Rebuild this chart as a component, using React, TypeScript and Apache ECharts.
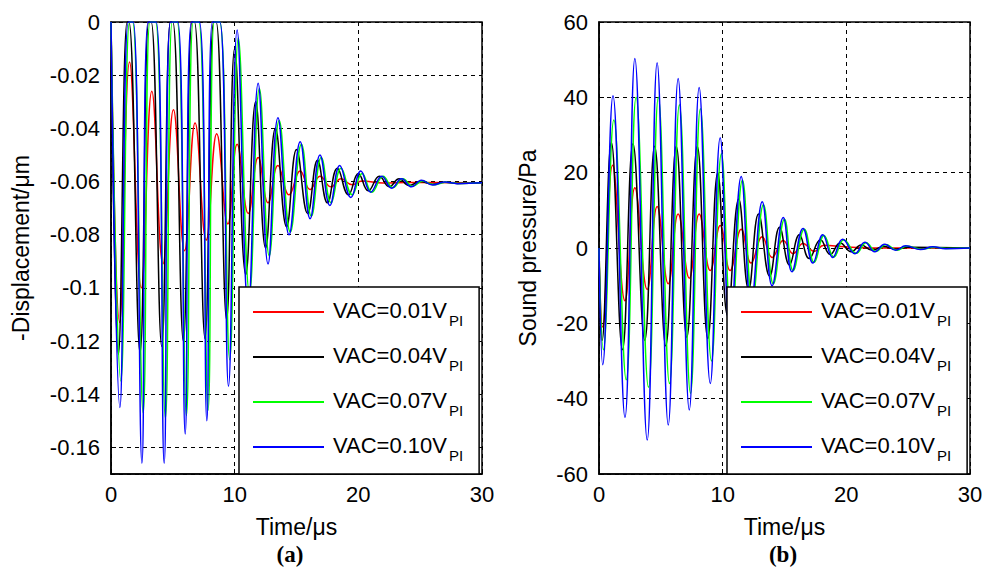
import React, { useEffect, useRef } from 'react';
import * as echarts from 'echarts';

// ---------- labels ----------
const legendNames = ['VAC=0.01V', 'VAC=0.04V', 'VAC=0.07V', 'VAC=0.10V'];
const legendSub = 'PI';
const seriesColors = ['#ff0000', '#000000', '#00ff00', '#0000ff'];
const panelLabels = ['(a)', '(b)'];
const xName = 'Time/\u03bcs';
const yNameLeft = '-Displacement/\u03bcm';
const yNameRight = 'Sound pressure/Pa';

// ---------- (a) displacement, extrema ----------
const dispTimeRed = [0, 0.7, 1.5, 2.45, 3.3, 4.2, 5.05, 5.95, 6.8, 7.7, 8.55, 9.45, 10.2, 11.1, 11.9, 12.7, 13.5, 14.4, 15.3, 16.1, 16.9, 17.8, 18.6, 19.5, 20.3, 22.0, 24.0, 30.0];
const dispRed = [0, -0.113, -0.015, -0.1, -0.026, -0.091, -0.033, -0.086, -0.038, -0.082, -0.042, -0.076, -0.046, -0.072, -0.051, -0.068, -0.054, -0.065, -0.056, -0.063, -0.058, -0.062, -0.059, -0.0612, -0.0598, -0.0606, -0.0604, -0.0605];

const dispTimeBlack = [0, 0.6, 1.3, 1.45, 2.35, 3.05, 3.25, 4.1, 4.8, 5.0, 5.85, 6.55, 6.75, 7.6, 8.3, 8.5, 9.35, 10.0, 10.9, 11.7, 12.5, 13.3, 14.2, 15.0, 15.9, 16.7, 17.5, 18.3, 19.2, 20.0, 20.8, 21.7, 22.5, 23.3, 24.1, 25.0, 26.0, 27.0, 28.0, 30.0];
const dispBlack = [0, -0.125, 0, 0, -0.1245, 0, 0, -0.122, 0, 0, -0.12, 0, 0, -0.119, 0, 0, -0.112, -0.01, -0.095, -0.03, -0.085, -0.04, -0.077, -0.048, -0.072, -0.052, -0.068, -0.055, -0.065, -0.057, -0.0635, -0.058, -0.062, -0.059, -0.0615, -0.06, -0.061, -0.0603, -0.0607, -0.0605];

const dispTimeGreen = [0, 0.8, 1.5, 1.75, 2.6, 3.15, 3.6, 4.4, 4.95, 5.35, 6.1, 6.65, 7.1, 7.85, 8.35, 8.8, 9.6, 10.3, 11.2, 12.0, 12.8, 13.6, 14.5, 15.4, 16.2, 17.0, 17.8, 18.6, 19.5, 20.3, 21.1, 22.0, 22.8, 23.6, 24.4, 25.2, 26.1, 27.1, 28.1, 30.0];
const dispGreen = [0, -0.135, 0, 0, -0.147, 0, 0, -0.149, 0, 0, -0.148, 0, 0, -0.146, 0, 0, -0.127, -0.006, -0.102, -0.025, -0.088, -0.037, -0.079, -0.046, -0.073, -0.051, -0.068, -0.055, -0.065, -0.057, -0.064, -0.058, -0.0623, -0.059, -0.0618, -0.0598, -0.0612, -0.0603, -0.0607, -0.0605];

const dispTimeBlue = [0, 0.72, 1.4, 1.8, 2.5, 3.0, 3.65, 4.3, 4.8, 5.4, 6.0, 6.5, 7.15, 7.75, 8.2, 8.8, 9.5, 10.2, 11.1, 11.9, 12.7, 13.5, 14.4, 15.3, 16.1, 16.9, 17.7, 18.5, 19.4, 20.2, 21.0, 21.9, 22.7, 23.5, 24.3, 25.1, 26.0, 27.0, 28.0, 30.0];
const dispBlue = [0, -0.145, 0, 0, -0.166, 0, 0, -0.166, 0, 0, -0.155, 0, 0, -0.15, 0, 0, -0.137, -0.003, -0.108, -0.023, -0.091, -0.036, -0.08, -0.045, -0.074, -0.05, -0.069, -0.054, -0.066, -0.056, -0.064, -0.058, -0.0625, -0.059, -0.062, -0.0595, -0.0613, -0.0602, -0.0608, -0.0605];

// ---------- (b) sound pressure, extrema ----------
const presTimeRed = [0, 0.3, 1.1, 2.1, 2.9, 3.9, 4.7, 5.6, 6.4, 7.3, 8.1, 9.0, 9.8, 10.6, 11.5, 12.3, 13.2, 14.0, 14.9, 15.7, 16.5, 17.4, 18.2, 19.8, 22.0, 30.0];
const presRed = [0, -21, 22, -14, 16, -11, 11, -9.5, 9, -8, 9, -6, 6, -6, 5, -4, 3, -2.5, 2, -1.5, 1.2, -0.9, 0.7, 0.3, 0, 0];

const presTimeBlack = [0, 0.25, 1.0, 1.9, 2.75, 3.7, 4.5, 5.4, 6.25, 7.1, 7.95, 8.8, 9.6, 10.4, 11.3, 12.1, 12.9, 13.8, 14.6, 15.4, 16.2, 17.0, 17.9, 18.7, 19.5, 20.4, 21.2, 22.1, 23.0, 24.0, 25.0, 30.0];
const presBlack = [0, -24.5, 28, -27, 27.7, -24.5, 27, -26, 27, -23.7, 27, -24, 20, -18, 13, -11, 9, -7.5, 5.5, -4.5, 3.5, -2.8, 2.2, -1.7, 1.3, -1.0, 0.8, -0.6, 0.4, -0.3, 0.2, 0];

const presTimeGreen = [0, 0.35, 1.2, 2.2, 3.0, 4.0, 4.8, 5.7, 6.5, 7.4, 8.2, 9.1, 9.9, 10.7, 11.6, 12.4, 13.3, 14.1, 15.0, 15.7, 16.6, 17.4, 18.2, 19.0, 19.8, 20.8, 21.6, 22.4, 23.2, 24.1, 24.9, 26.1, 27.1, 28.1, 30.0];
const presGreen = [0, -27, 34, -35, 40, -37, 40, -36, 38, -38.6, 37, -30, 25, -20, 18, -14, 11.5, -9.5, 7.6, -6, 5, -3.8, 3.3, -2.4, 2.2, -1.4, 1.4, -0.9, 0.9, -0.6, 0.5, -0.3, 0.2, -0.1, 0];

const presTimeBlue = [0, 0.3, 1.13, 2.1, 2.9, 3.9, 4.7, 5.6, 6.4, 7.3, 8.1, 9.0, 9.8, 10.6, 11.5, 12.3, 13.2, 14.0, 14.9, 15.6, 16.5, 17.3, 18.1, 18.9, 19.7, 20.7, 21.5, 22.3, 23.1, 24.0, 24.8, 26.0, 27.0, 28.0, 30.0];
const presBlue = [0, -31, 40.4, -45, 50.3, -51, 49.2, -47, 45, -43, 42.6, -36, 29.3, -23, 19, -15, 12.3, -10, 8.1, -6.3, 5.2, -4, 3.5, -2.5, 2.3, -1.5, 1.5, -1.0, 1.0, -0.6, 0.6, -0.4, 0.3, -0.2, 0];

const SANS = '"Liberation Sans", Arial, sans-serif';
const SERIF = '"Liberation Serif", "Times New Roman", serif';

const zip = (t: number[], v: number[]) => t.map((x, i) => [x, v[i]]);

const dispSets = [
  zip(dispTimeRed, dispRed),
  zip(dispTimeBlack, dispBlack),
  zip(dispTimeGreen, dispGreen),
  zip(dispTimeBlue, dispBlue),
];
const presSets = [
  zip(presTimeRed, presRed),
  zip(presTimeBlack, presBlack),
  zip(presTimeGreen, presGreen),
  zip(presTimeBlue, presBlue),
];

function makeSeries(sets: number[][][], axisIndex: number) {
  return sets.map((data, i) => ({
    type: 'line',
    name: legendNames[i],
    xAxisIndex: axisIndex,
    yAxisIndex: axisIndex,
    data,
    symbol: 'none',
    smooth: 0.45,
    clip: true,
    lineStyle: { color: seriesColors[i], width: 1.5 },
    itemStyle: { color: seriesColors[i] },
    emphasis: { disabled: true },
  }));
}

const axisCommon = {
  type: 'value',
  axisLine: { show: true, onZero: false, lineStyle: { color: '#000', width: 1.5 } },
  axisTick: { show: true, inside: true, length: 5, lineStyle: { color: '#000', width: 1 } },
  splitLine: { show: true, lineStyle: { color: '#000', type: [4, 4], width: 1 } },
  axisLabel: { color: '#000', fontSize: 22, fontFamily: SANS },
  nameLocation: 'middle',
  nameTextStyle: { color: '#000', fontSize: 23, fontFamily: SANS },
};

function makeLegend(left: number) {
  return {
    orient: 'vertical',
    left,
    top: 287,
    padding: [9, 16, 11, 14],
    itemGap: 13,
    itemWidth: 71,
    itemHeight: 2,
    icon: 'rect',
    backgroundColor: '#fff',
    borderColor: '#000',
    borderWidth: 1.5,
    borderRadius: 0,
    selectedMode: false,
    data: legendNames,
    formatter: (name: string) => `{a|${name}}{b|${legendSub}}`,
    textStyle: {
      color: '#000',
      rich: {
        a: { fontSize: 22, fontFamily: SANS, lineHeight: 22, padding: [3, 0, 7, 4], color: '#000' },
        b: { fontSize: 15, fontFamily: SANS, lineHeight: 15, padding: [17, 0, 0, 2], color: '#000' },
      },
    },
  };
}

const option = {
  animation: false,
  backgroundColor: '#fff',
  grid: [
    { left: 111, top: 22, width: 371, height: 452, show: true, borderColor: '#000', borderWidth: 1.5, backgroundColor: 'transparent' },
    { left: 599, top: 22, width: 371, height: 452, show: true, borderColor: '#000', borderWidth: 1.5, backgroundColor: 'transparent' },
  ],
  xAxis: [
    { ...axisCommon, gridIndex: 0, min: 0, max: 30, interval: 10, name: xName, nameGap: 41, axisLabel: { ...axisCommon.axisLabel, margin: 9 } },
    { ...axisCommon, gridIndex: 1, min: 0, max: 30, interval: 10, name: xName, nameGap: 41, axisLabel: { ...axisCommon.axisLabel, margin: 9 } },
  ],
  yAxis: [
    {
      ...axisCommon,
      gridIndex: 0,
      min: -0.17,
      max: 0,
      splitNumber: 8,
      name: yNameLeft,
      nameGap: 79,
      axisLabel: { ...axisCommon.axisLabel, margin: 11, showMinLabel: false },
    },
    {
      ...axisCommon,
      gridIndex: 1,
      min: -60,
      max: 60,
      interval: 20,
      name: yNameRight,
      nameGap: 60,
      axisLabel: { ...axisCommon.axisLabel, margin: 11 },
    },
  ],
  legend: [makeLegend(239), makeLegend(727)],
  series: [...makeSeries(dispSets, 0), ...makeSeries(presSets, 1)],
  graphic: [
    {
      type: 'text',
      x: 290,
      y: 554,
      style: { text: panelLabels[0], font: `bold 23px ${SERIF}`, fill: '#000', align: 'center', verticalAlign: 'middle' },
    },
    {
      type: 'text',
      x: 783,
      y: 554,
      style: { text: panelLabels[1], font: `bold 23px ${SERIF}`, fill: '#000', align: 'center', verticalAlign: 'middle' },
    },
  ],
};

export default function App() {
  const ref = useRef<HTMLDivElement>(null);
  useEffect(() => {
    if (!ref.current) return;
    const chart = echarts.init(ref.current, null, { renderer: 'svg' });
    chart.setOption(option as any);
    return () => chart.dispose();
  }, []);
  return (
    <div
      ref={ref}
      style={{ position: 'fixed', left: 0, top: 0, width: 991, height: 568, background: '#fff' }}
    />
  );
}
